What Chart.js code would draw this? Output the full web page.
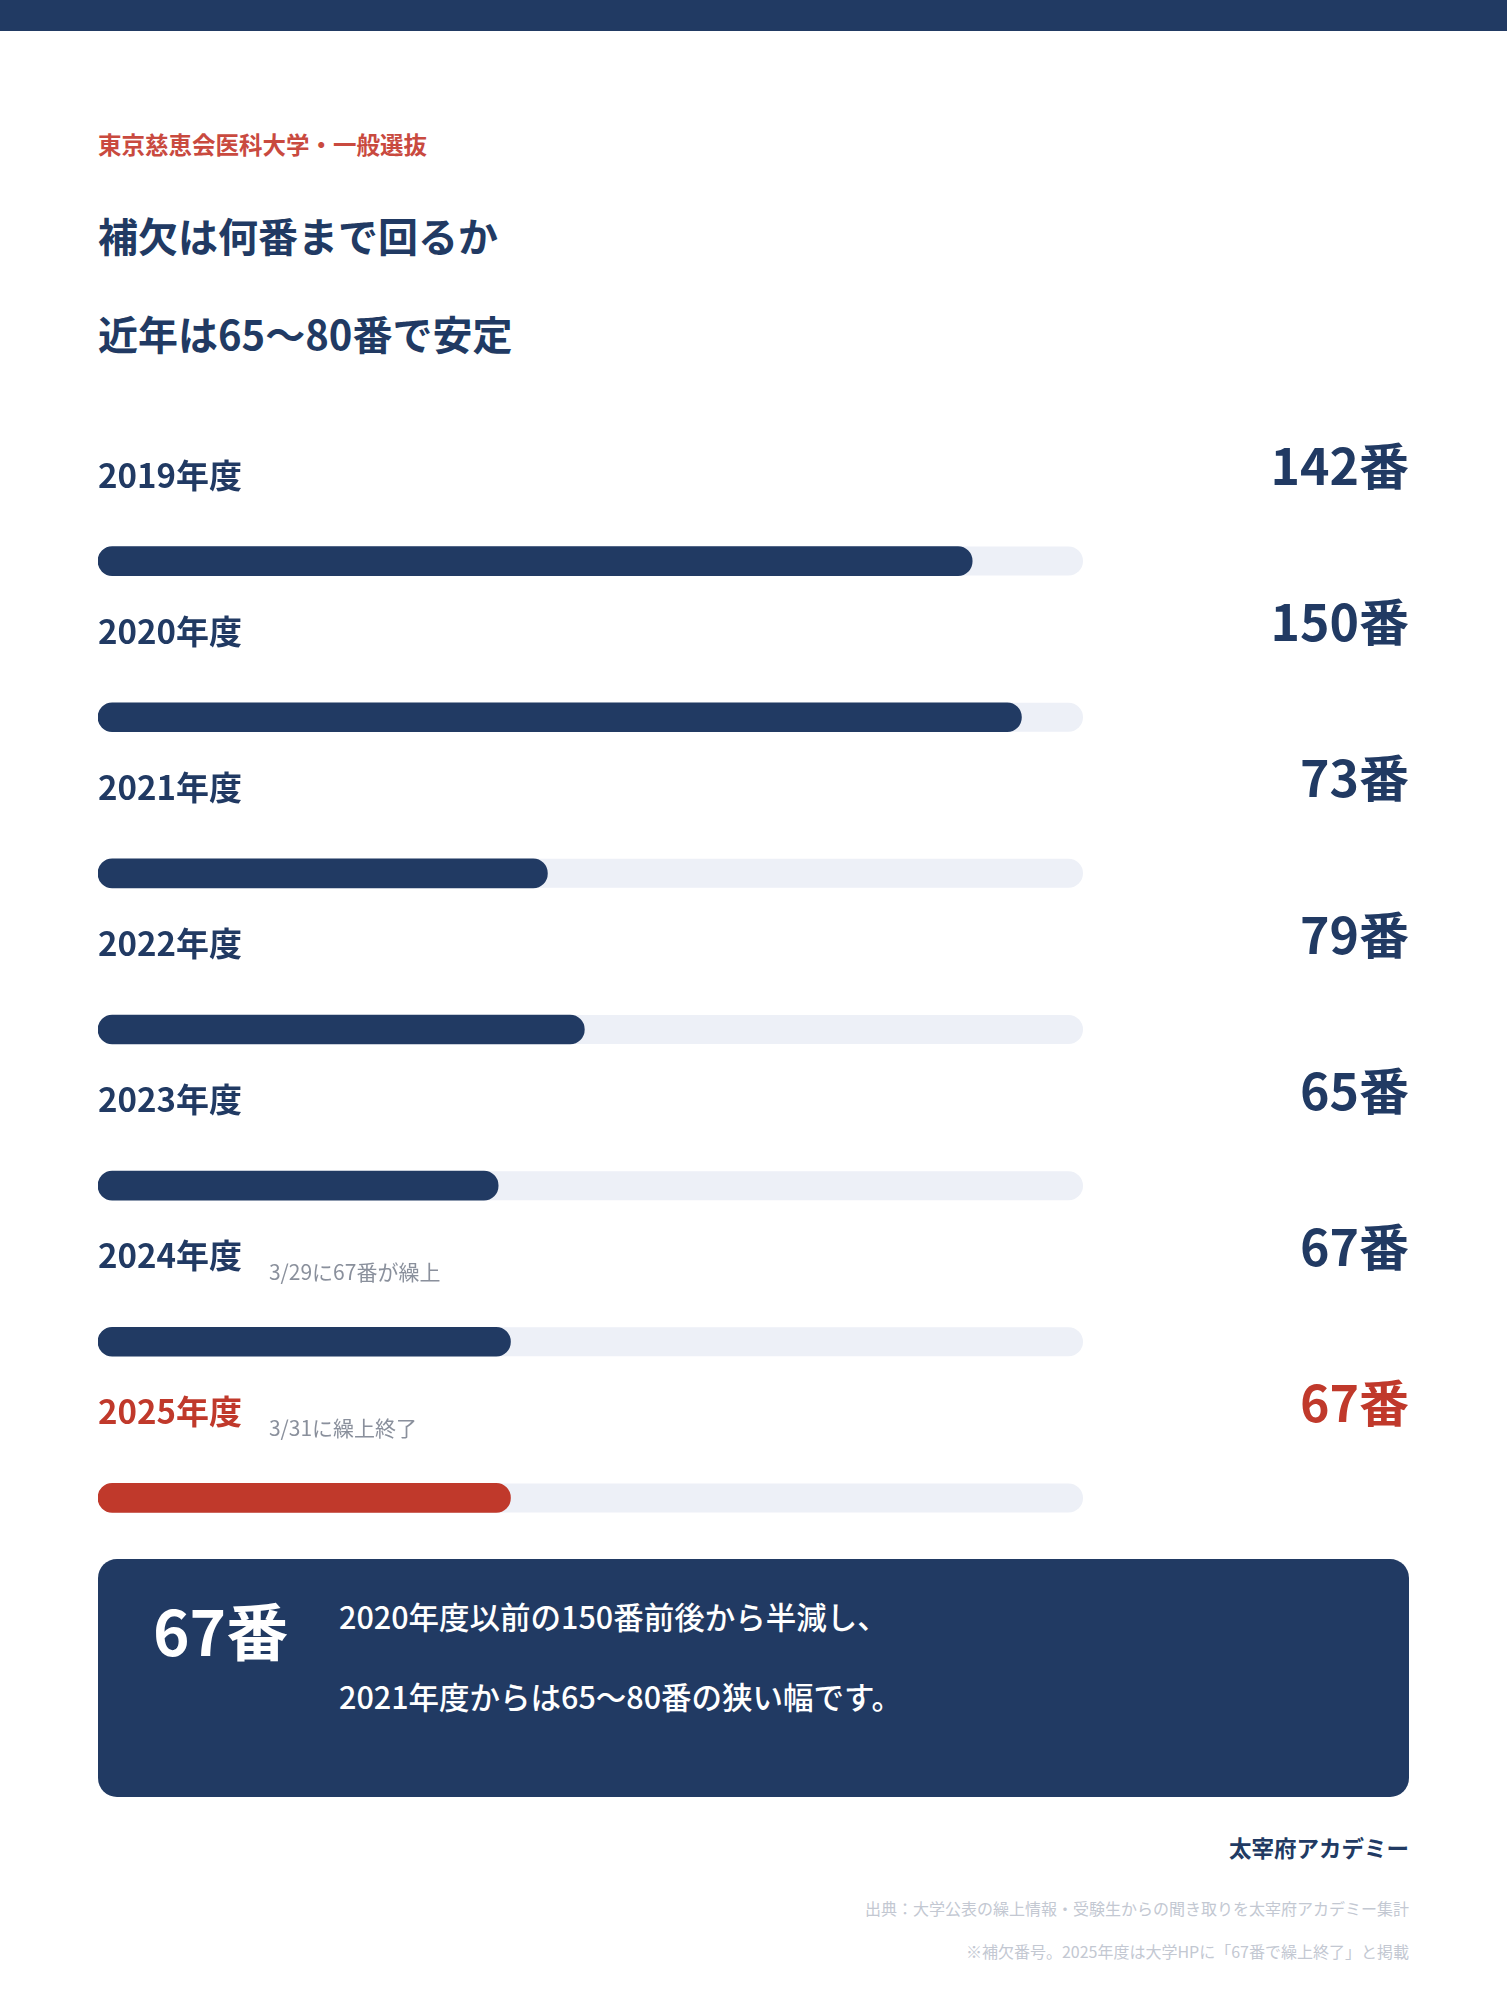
<!DOCTYPE html>
<html lang="ja">
<head>
<meta charset="utf-8">
<script src="https://cdn.jsdelivr.net/npm/chart.js@4/dist/chart.umd.min.js"></script>
<style>
  html, body { margin: 0; padding: 0; background: #fff; }
  body { width: 1507px; height: 2000px; position: relative; font-family: "Noto Sans CJK JP", "Noto Sans", sans-serif; color: #213a63; overflow: hidden; }
  .topbar { position: absolute; left: 0; top: 0; width: 1507px; height: 31px; background: #213a63; }
  .abs { position: absolute; white-space: nowrap; line-height: 1; }
  .kicker { left: 98px; top: 133px; font-size: 23.5px; font-weight: 700; color: #c94a3f; }
  .title { left: 98px; font-size: 40px; font-weight: 700; }
  #chart-wrap { position: absolute; left: 98px; top: 420px; width: 1311px; height: 1156px; }
  .box { position: absolute; left: 98px; top: 1559px; width: 1311px; height: 238px; background: #213a63; border-radius: 19px; color: #fff; }
  .big { left: 55px; top: 39px; font-size: 62px; font-weight: 700; }
  .msg { left: 241px; font-size: 30.5px; font-weight: 500; }
  .brand { right: 98px; top: 1836px; font-size: 22.5px; font-weight: 700; }
  .src { right: 98px; font-size: 16px; color: #c3c8d2; }
</style>
</head>
<body>
<div class="topbar"></div>
<div class="abs kicker">東京慈恵会医科大学・一般選抜</div>
<div class="abs title" style="top:215px">補欠は何番まで回るか</div>
<div class="abs title" style="top:313px">近年は65〜80番で安定</div>

<div id="chart-wrap"><canvas id="bar-chart" width="1311" height="1156"></canvas></div>

<div class="box">
  <div class="abs big">67番</div>
  <div class="abs msg" style="top:42px">2020年度以前の150番前後から半減し、</div>
  <div class="abs msg" style="top:122px">2021年度からは65〜80番の狭い幅です。</div>
</div>

<div class="abs brand">太宰府アカデミー</div>
<div class="abs src" style="top:1900px">出典：大学公表の繰上情報・受験生からの聞き取りを太宰府アカデミー集計</div>
<div class="abs src" style="top:1943px">※補欠番号。2025年度は大学HPに「67番で繰上終了」と掲載</div>

<script>
const years = ['2019年度', '2020年度', '2021年度', '2022年度', '2023年度', '2024年度', '2025年度'];
const ranks = [142, 150, 73, 79, 65, 67, 67];
const notes = ['', '', '', '', '', '3/29に67番が繰上', '3/31に繰上終了'];
const highlightYear = '2025年度';
const scaleMax = 160;

const NAVY = '#213a63';
const RED = '#c0392b';
const TRACK = '#edf0f7';
const FONT = '"Noto Sans CJK JP", "Noto Sans", sans-serif';

const barColors = years.map(y => y === highlightYear ? RED : NAVY);

// grey track behind each bar, full width of the x scale
const trackPlugin = {
  id: 'track',
  beforeDatasetsDraw(chart) {
    const { ctx } = chart;
    const x0 = chart.scales.x.getPixelForValue(0);
    const x1 = chart.scales.x.getPixelForValue(scaleMax);
    chart.getDatasetMeta(0).data.forEach(bar => {
      const h = bar.height;
      ctx.save();
      ctx.fillStyle = TRACK;
      ctx.beginPath();
      ctx.roundRect(x0, bar.y - h / 2, x1 - x0, h, h / 2);
      ctx.fill();
      ctx.restore();
    });
  }
};

// year label above the bar, note next to it, rank on the right
const labelPlugin = {
  id: 'rowLabels',
  afterDatasetsDraw(chart) {
    const { ctx, chartArea } = chart;
    chart.getDatasetMeta(0).data.forEach((bar, i) => {
      const color = barColors[i];
      ctx.save();
      ctx.textBaseline = 'middle';
      ctx.fillStyle = color;
      ctx.textAlign = 'left';
      ctx.font = '700 33px ' + FONT;
      ctx.fillText(years[i], chartArea.left, bar.y - 86);
      const w = ctx.measureText(years[i]).width;
      if (notes[i]) {
        ctx.font = '400 21px ' + FONT;
        ctx.fillStyle = '#8a909c';
        ctx.fillText(notes[i], chartArea.left + w + 27, bar.y - 70);
      }
      ctx.textAlign = 'right';
      ctx.fillStyle = color;
      ctx.font = '700 50px ' + FONT;
      ctx.fillText(ranks[i] + '番', chart.width, bar.y - 95);
      ctx.restore();
    });
  }
};

new Chart(document.getElementById('bar-chart'), {
  type: 'bar',
  data: {
    labels: years,
    datasets: [{
      data: ranks,
      backgroundColor: barColors,
      borderRadius: 15,
      borderSkipped: false,
      barThickness: 29
    }]
  },
  options: {
    indexAxis: 'y',
    responsive: false,
    animation: false,
    layout: { padding: { top: 63, right: 326, left: 0, bottom: 0 } },
    scales: {
      x: { display: false, min: 0, max: scaleMax },
      y: { display: false }
    },
    plugins: {
      legend: { display: false },
      tooltip: { enabled: false }
    }
  },
  plugins: [trackPlugin, labelPlugin]
});
</script>
</body>
</html>
